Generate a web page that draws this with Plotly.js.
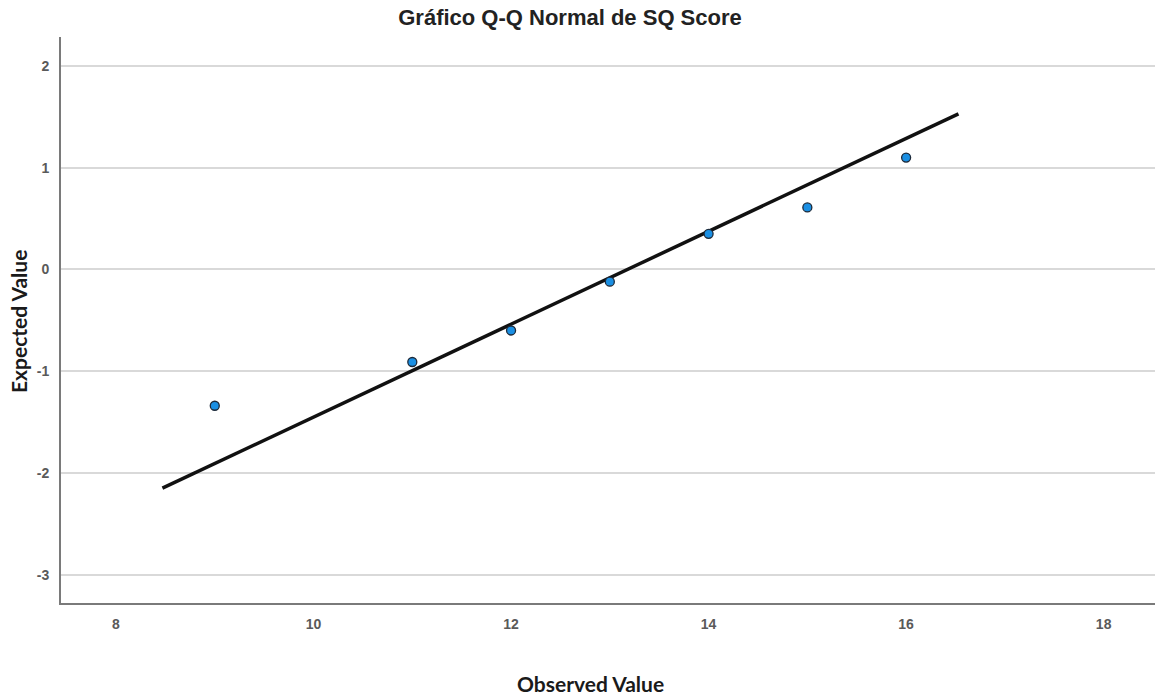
<!DOCTYPE html>
<html>
<head>
<meta charset="utf-8">
<script src="https://cdn.plot.ly/plotly-3.0.1.min.js"></script>
<style>html,body{margin:0;padding:0;background:#fff;}#chart{width:1155px;height:695px;}</style>
</head>
<body>
<div id="chart"></div>
<script>
const observed = [9, 11, 12, 13, 14, 15, 16];
const expected = [-1.34, -0.91, -0.60, -0.12, 0.35, 0.61, 1.10];
const lineObserved = [8.47, 16.53];
const lineExpected = [-2.15, 1.53];
const xTicks = [8, 10, 12, 14, 16, 18];
const xTickText = ['8', '10', '12', '14', '16', '18'];
const yTicks = [-3, -2, -1, 0, 1, 2];
const yTickText = ['-3', '-2', '-1', '0', '1', '2'];

const traces = [
  {x: lineObserved, y: lineExpected, mode: 'lines', type: 'scatter',
   line: {color: '#111', width: 3.5}, hoverinfo: 'skip'},
  {x: observed, y: expected, mode: 'markers', type: 'scatter',
   marker: {color: '#1a8fe3', size: 9, line: {color: '#1d2a3a', width: 1.3}}}
];

const tickFont = {family: 'Liberation Sans, Arial', size: 14, color: '#5a5a5a', weight: 'bold'};

const layout = {
  width: 1155, height: 695,
  margin: {l: 61, r: 0, t: 37, b: 92},
  paper_bgcolor: '#fff', plot_bgcolor: '#fff',
  showlegend: false,
  title: {text: 'Gráfico Q-Q Normal de SQ Score', x: (570)/1155, xanchor: 'center', y: 1 - 17/695, yanchor: 'middle',
          font: {family: 'Liberation Sans, Arial', size: 22, color: '#222', weight: 'bold'}},
  xaxis: {range: [7.443, 18.52], tickvals: xTicks, ticktext: xTickText, showgrid: false, zeroline: false,
          showline: true, linecolor: '#7a7a7a', linewidth: 2, ticks: '',
          ticklabelstandoff: 7, tickfont: tickFont},
  yaxis: {range: [-3.279, 2.285], tickvals: yTicks, ticktext: yTickText, showgrid: true, gridcolor: '#d9d9d9', gridwidth: 2,
          zeroline: false, showline: true, linecolor: '#7a7a7a', linewidth: 2, ticks: '',
          ticklabelstandoff: 7, tickfont: tickFont},
  annotations: [
    {text: '<b>Observed Value</b>', xref: 'paper', yref: 'paper', x: (590-61)/1094, y: -(683-603)/566,
     xanchor: 'center', yanchor: 'middle', showarrow: false,
     font: {family: 'Lato, Open Sans', size: 21, color: '#1a1a1a'}},
    {text: '<b>Expected Value</b>', xref: 'paper', yref: 'paper', x: -(61-18)/1094, y: (603-322)/566,
     xanchor: 'center', yanchor: 'middle', showarrow: false, textangle: -90,
     font: {family: 'Lato, Open Sans', size: 21, color: '#1a1a1a'}}
  ]
};

Plotly.newPlot('chart', traces, layout, {displayModeBar: false, staticPlot: true});
</script>
</body>
</html>
